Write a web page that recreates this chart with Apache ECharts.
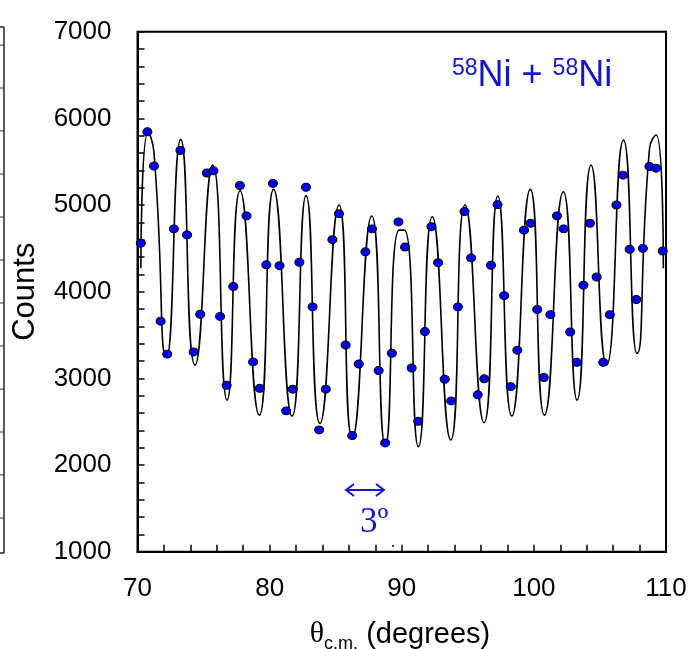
<!DOCTYPE html>
<html>
<head>
<meta charset="utf-8">
<script src="https://cdn.jsdelivr.net/npm/echarts@6/dist/echarts.min.js"></script>
<style>
html,body{margin:0;padding:0;background:#fff;}
#c{width:693px;height:649px;}
</style>
</head>
<body>
<div id="c"></div>
<script>
// measured data points
const dataX = [70.25,70.75,71.25,71.75,72.25,72.75,73.25,73.75,74.25,74.75,
  75.25,75.75,76.25,76.75,77.25,77.75,78.25,78.75,79.25,79.75,
  80.25,80.75,81.25,81.75,82.25,82.75,83.25,83.75,84.25,84.75,
  85.25,85.75,86.25,86.75,87.25,87.75,88.25,88.75,89.25,89.75,
  90.25,90.75,91.25,91.75,92.25,92.75,93.25,93.75,94.25,94.75,
  95.25,95.75,96.25,96.75,97.25,97.75,98.25,98.75,99.25,99.75,
  100.25,100.75,101.25,101.75,102.25,102.75,103.25,103.75,104.25,104.75,
  105.25,105.75,106.25,106.75,107.25,107.75,108.25,108.75,109.25,109.75];
const dataY = [4560,5845,5450,3660,3280,4725,5630,4655,3305,3740,
  5370,5395,3715,2920,4060,5225,4875,3190,2885,4310,
  5250,4300,2625,2875,4340,5205,3825,2405,2875,4600,
  4900,3385,2340,3165,4460,4725,3090,2255,3290,4805,
  4515,3120,2505,3540,4750,4335,2990,2740,3825,4925,
  4390,2810,2995,4305,5005,3955,2905,3325,4710,4790,
  3795,3010,3735,4875,4725,3535,3185,4075,4790,4170,
  3185,3735,5000,5345,4490,3910,4500,5445,5425,4470];

// fitted curve: read extrema and shoulder points
const curveX = [70.25,70.8,71.25,72.2,73.27,74.35,75.69,76.78,77.76,79.22,80.3,81.7,82.76,83.81,
  85.25,86.26,87.73,88.76,89.8,90.2,91.26,92.31,93.71,94.79,96.23,97.27,98.33,99.73,100.8,
  102.23,103.27,104.33,105.5,106.78,107.8,108.75,109.25,109.8];
const curveY = [4270,5840,5600,3240,5758,3153,5461,2749,5165,2576,5181,2565,5108,2480,
  5000,2307,4873,2219,4711,4711,2211,4865,2288,5000,2488,5104,2565,5181,2576,
  5154,2749,5461,3153,5750,3288,5650,5808,4270];

const xMin = 70, xMax = 110, xTick = 2, xLabelStep = 10;
const yMin = 1000, yMax = 7000, yTick = 200, yLabelStep = 1000;

const chart = echarts.init(document.getElementById('c'));
const FONT = "'Liberation Sans', Arial, Helvetica, sans-serif";
const BLUE = '#1414d2';

const leftTicks = [];
for (let y = 45; y < 552; y += 43) {
  leftTicks.push({type:'line', shape:{x1:0,y1:y,x2:4,y2:y}, style:{stroke:'#333', lineWidth:1}});
}

chart.setOption({
  animation: false,
  backgroundColor: '#fff',
  grid: {left: 137.5, right: 27, top: 31.7, bottom: 97.3, show: true, borderColor: '#000', borderWidth: 2,
         backgroundColor: 'transparent', containLabel: false, outerBoundsMode: 'none'},
  xAxis: {
    type: 'value', min: xMin, max: xMax, interval: xTick,
    axisLine: {show: true, lineStyle: {color: '#000', width: 2}},
    axisTick: {show: true, inside: true, length: 7, lineStyle: {color: '#000', width: 1.5}},
    splitLine: {show: false},
    axisLabel: {fontSize: 26, color: '#000', fontFamily: FONT, margin: 24,
      formatter: v => (v % xLabelStep === 0 ? String(v) : '')}
  },
  yAxis: {
    type: 'value', min: yMin, max: yMax, interval: yTick,
    name: 'Counts', nameLocation: 'middle', nameGap: 97, nameRotate: 90,
    nameTextStyle: {fontSize: 31, color: '#000', fontFamily: "'Liberation Sans Narrow', Arial, sans-serif"},
    axisLine: {show: true, lineStyle: {color: '#000', width: 2}},
    axisTick: {show: true, inside: true, length: 7, lineStyle: {color: '#000', width: 1.5}},
    splitLine: {show: false},
    axisLabel: {fontSize: 26, color: '#000', fontFamily: FONT, margin: 26,
      formatter: v => (v % yLabelStep === 0 ? String(v) : '')}
  },
  series: [
    {
      type: 'line', data: curveX.map((x, i) => [x, curveY[i]]),
      smooth: 0.6, showSymbol: false, lineStyle: {color: '#000', width: 1.6}, z: 2, silent: true
    },
    {
      type: 'scatter', data: dataX.map((x, i) => [x, dataY[i]]),
      symbol: 'circle', symbolSize: [9, 8],
      itemStyle: {color: '#0000ee', borderColor: '#000', borderWidth: 1, opacity: 1}, z: 3
    }
  ],
  graphic: [
    {type: 'line', shape: {x1: 4, y1: 27, x2: 4, y2: 553}, style: {stroke: '#222', lineWidth: 1.5}},
    {type: 'line', shape: {x1: 0, y1: 27, x2: 4, y2: 27}, style: {stroke: '#222', lineWidth: 1.5}},
    {type: 'line', shape: {x1: 0, y1: 553, x2: 4, y2: 553}, style: {stroke: '#222', lineWidth: 1.5}},
    ...leftTicks,
    {
      type: 'text', left: 452, top: 57,
      style: {
        text: '{s|58}{n|Ni + }{s|58}{n|Ni}',
        rich: {
          s: {fontSize: 23, fill: BLUE, fontFamily: FONT, verticalAlign: 'top', padding: [0,0,14,0]},
          n: {fontSize: 36, fill: BLUE, fontFamily: FONT, verticalAlign: 'bottom'}
        }
      }
    },
    // 3 degree arrow
    {type: 'line', shape: {x1: 346, y1: 490, x2: 384, y2: 490}, style: {stroke: BLUE, lineWidth: 2}},
    {type: 'polyline', shape: {points: [[354, 484], [346, 490], [354, 496]]}, style: {stroke: BLUE, lineWidth: 2, fill: null}},
    {type: 'polyline', shape: {points: [[376, 484], [384, 490], [376, 496]]}, style: {stroke: BLUE, lineWidth: 2, fill: null}},
    {
      type: 'text', left: 360, top: 505,
      style: {text: '3º', fontSize: 35, fill: BLUE, fontFamily: "'Liberation Serif', 'Times New Roman', serif"}
    },
    {type: 'circle', shape: {cx: 393, cy: 546, r: 1}, style: {fill: '#000'}},
    {
      type: 'text', x: 400, y: 634,
      style: {
        text: '{t|θ}{c|c.m.}{d| (degrees)}',
        align: 'center', verticalAlign: 'middle',
        rich: {
          t: {fontSize: 30, fill: '#000', fontFamily: "'Liberation Serif', 'Times New Roman', serif", verticalAlign: 'bottom'},
          c: {fontSize: 18, fill: '#000', fontFamily: FONT, verticalAlign: 'bottom', padding: [0,0,-4,0]},
          d: {fontSize: 29, fill: '#000', fontFamily: FONT, verticalAlign: 'bottom'}
        }
      }
    }
  ]
});
</script>
</body>
</html>
